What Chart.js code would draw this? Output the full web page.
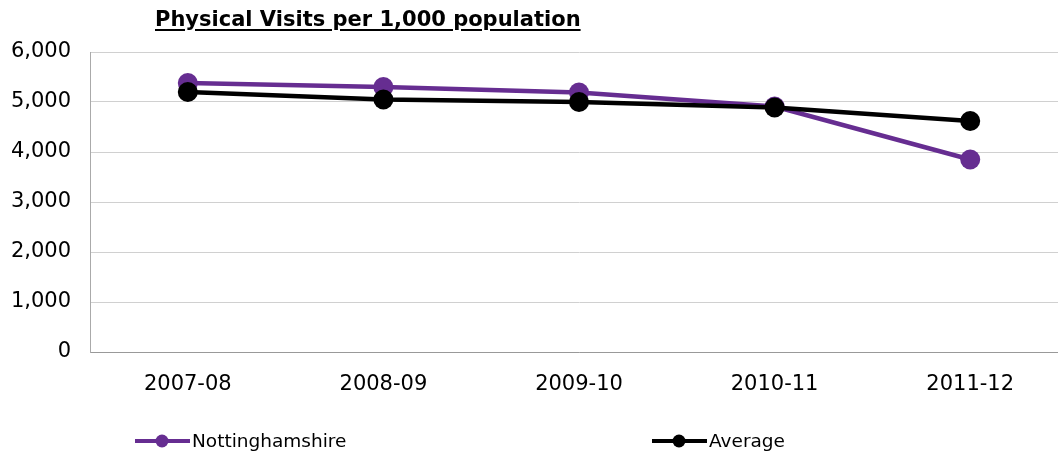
<!DOCTYPE html>
<html>
<head>
<meta charset="utf-8">
<script src="https://cdn.jsdelivr.net/npm/chart.js@4.4.1/dist/chart.umd.min.js"></script>
<style>
html,body{margin:0;padding:0;background:#fff;overflow:hidden;}
#wrap{position:relative;width:1058px;height:454px;overflow:hidden;}
#title{position:absolute;left:155px;top:7px;font-family:"DejaVu Sans",Verdana,sans-serif;font-weight:bold;font-size:21px;text-decoration:underline;text-underline-offset:3px;color:#000;white-space:nowrap;}
</style>
</head>
<body>
<div id="wrap">
<canvas id="c" width="1078" height="454" style="width:1078px;height:454px;"></canvas>
<div id="title">Physical Visits per 1,000 population</div>
</div>
<script>
const categories = ["2007-08", "2008-09", "2009-10", "2010-11", "2011-12"];
const nottinghamshire = [5380, 5300, 5190, 4910, 3850];
const average = [5200, 5050, 5000, 4890, 4620];
const yTicks = [0, 1000, 2000, 3000, 4000, 5000, 6000];
const seriesNames = ["Nottinghamshire", "Average"];
const seriesColors = ["#662D91", "#000000"];

const legendPlugin = {
  id: 'customLegend',
  afterDraw(chart) {
    const ctx = chart.ctx;
    const xs = [135, 652];
    const y = 441;
    chart.data.datasets.forEach((ds, i) => {
      const x = xs[i];
      ctx.save();
      ctx.strokeStyle = ds.borderColor;
      ctx.lineWidth = 4;
      ctx.beginPath();
      ctx.moveTo(x, y);
      ctx.lineTo(x + 55, y);
      ctx.stroke();
      ctx.fillStyle = ds.backgroundColor;
      ctx.beginPath();
      ctx.arc(x + 27, y, 6.5, 0, Math.PI * 2);
      ctx.fill();
      ctx.fillStyle = '#000';
      ctx.font = '18.5px "DejaVu Sans"';
      ctx.textBaseline = 'middle';
      ctx.textAlign = 'left';
      ctx.fillText(ds.label, x + 57, y + 1);
      ctx.restore();
    });
  }
};

new Chart(document.getElementById('c'), {
  type: 'line',
  data: {
    labels: categories,
    datasets: [
      { label: seriesNames[0], data: nottinghamshire, order: 1, borderColor: seriesColors[0], backgroundColor: seriesColors[0], borderWidth: 4.5, pointRadius: 10, pointBorderWidth: 0, pointHoverRadius: 10, tension: 0 },
      { label: seriesNames[1], data: average, order: 0, borderColor: seriesColors[1], backgroundColor: seriesColors[1], borderWidth: 4.5, pointRadius: 10, pointBorderWidth: 0, pointHoverRadius: 10, tension: 0 }
    ]
  },
  options: {
    responsive: false,
    animation: false,
    events: [],
    layout: { padding: { top: 52, left: 0, right: 0, bottom: 0 } },
    plugins: { legend: { display: false }, title: { display: false }, tooltip: { enabled: false } },
    scales: {
      x: {
        offset: true,
        grid: { display: false, drawTicks: false },
        border: { display: true, color: '#999999', width: 1 },
        ticks: { color: '#000', font: { family: 'DejaVu Sans', size: 21 }, padding: 20, maxRotation: 0 },
        afterFit(scale) { scale.height = 102; }
      },
      y: {
        min: 0, max: 6000,
        afterBuildTicks(scale) { scale.ticks = yTicks.map(v => ({ value: v })); },
        grid: { color: '#d0d0d0', lineWidth: 1, drawTicks: false },
        border: { display: true, color: '#aaaaaa', width: 1 },
        ticks: {
          color: '#000', font: { family: 'DejaVu Sans', size: 21 }, padding: 19,
          callback: v => v.toLocaleString('en-US')
        },
        afterFit(scale) { scale.width = 90; }
      }
    }
  },
  plugins: [legendPlugin]
});
</script>
</body>
</html>
